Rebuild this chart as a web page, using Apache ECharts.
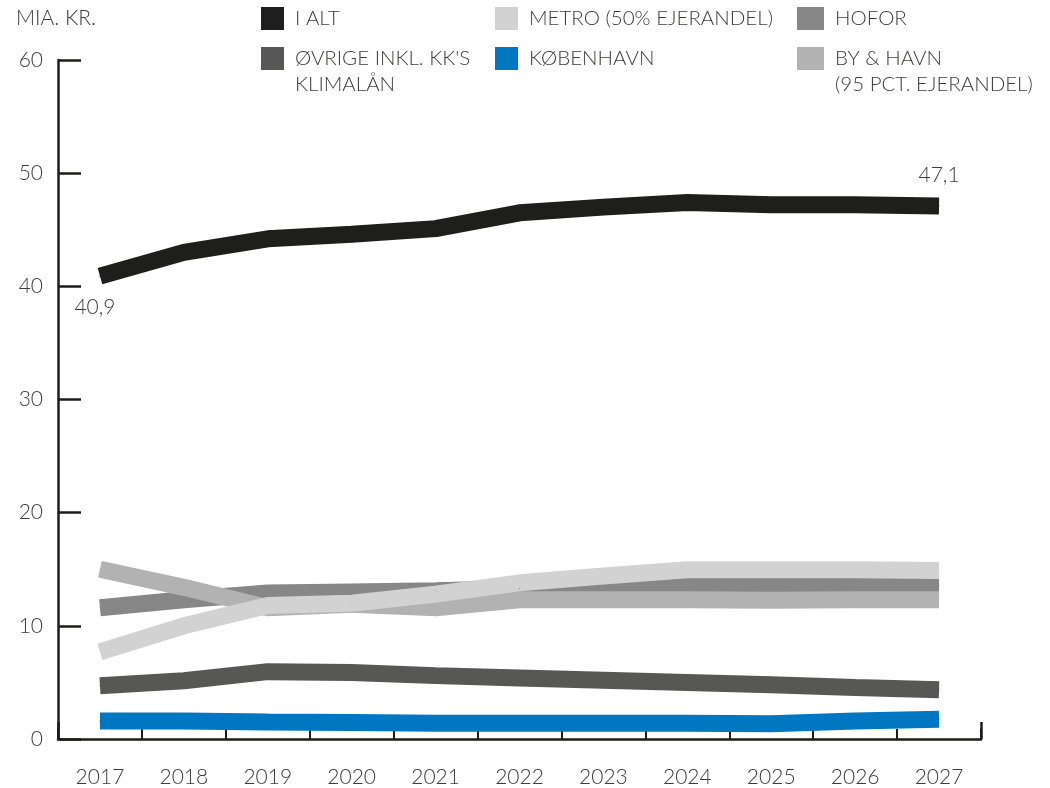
<!DOCTYPE html>
<html>
<head>
<meta charset="utf-8">
<script src="https://cdn.jsdelivr.net/npm/echarts@6/dist/echarts.min.js"></script>
<style>
  html, body { margin: 0; padding: 0; background: #ffffff; }
  #chart { width: 1050px; height: 788px; }
</style>
</head>
<body>
<div id="chart"></div>
<script>
const years = ['2017','2018','2019','2020','2021','2022','2023','2024','2025','2026','2027'];
const yTicks = [0, 10, 20, 30, 40, 50, 60];
const unitLabel = 'MIA. KR.';

const nameIAlt = 'I ALT';
const nameMetro = 'METRO (50% EJERANDEL)';
const nameHofor = 'HOFOR';
const nameOvrige = "ØVRIGE INKL. KK'S\nKLIMALÅN";
const nameKbh = 'KØBENHAVN';
const nameByHavn = 'BY & HAVN\n(95 PCT. EJERANDEL)';

const iAlt     = [40.9, 43.0, 44.2, 44.6, 45.1, 46.5, 47.0, 47.4, 47.2, 47.2, 47.1];
const metro    = [7.7, 10.0, 11.8, 12.0, 12.8, 13.8, 14.4, 14.95, 14.95, 14.95, 14.9];
const hofor    = [11.6, 12.3, 12.9, 13.0, 13.1, 13.3, 13.45, 13.6, 13.6, 13.6, 13.6];
const ovrige   = [4.7, 5.15, 5.95, 5.87, 5.6, 5.4, 5.2, 5.0, 4.8, 4.55, 4.35];
const kbh      = [1.6, 1.6, 1.5, 1.45, 1.4, 1.4, 1.4, 1.4, 1.35, 1.6, 1.75];
const byHavn   = [15.0, 13.4, 11.6, 11.9, 11.6, 12.3, 12.3, 12.3, 12.25, 12.3, 12.3];

const colors = {
  iAlt: '#1e1e1c',
  metro: '#d2d2d2',
  hofor: '#878787',
  ovrige: '#575756',
  kbh: '#0077c0',
  byHavn: '#b2b2b2'
};

const FONT = 'Lato';
const TXT = '#3c3c3b';
const AX = '#1d1d1b';
const LW = 17;

function fmt(v) { return String(v).replace('.', ','); }

function mkSeries(name, values, color, labelIdx) {
  return {
    name: name,
    type: 'line',
    symbol: 'circle',
    symbolSize: 1,
    showSymbol: true,
    itemStyle: { color: color, borderWidth: 0 },
    lineStyle: { color: color, width: LW, cap: 'butt', join: 'bevel' },
    emphasis: { disabled: true },
    data: values.map(function (v, i) {
      if (labelIdx && labelIdx[i]) {
        return {
          value: v,
          label: Object.assign({
            show: true,
            formatter: function (p) { return fmt(p.value); },
            fontFamily: FONT, fontWeight: 300, fontSize: 21, color: TXT
          }, labelIdx[i])
        };
      }
      return v;
    })
  };
}

const legendText = { fontFamily: FONT, fontWeight: 300, fontSize: 20.5, color: TXT, lineHeight: 26, padding: [0, 0, 0, 6] };
function mkLegend(name, left, top, w, twoLine) {
  const l = {
    data: [name],
    left: left, top: top,
    padding: 0,
    icon: 'rect',
    itemWidth: w, itemHeight: 23,
    selectedMode: false,
    itemStyle: { borderWidth: 0 },
    textStyle: legendText
  };
  if (twoLine) {
    l.formatter = function (n) { return '\n' + n; };
  }
  return l;
}

const chart = echarts.init(document.getElementById('chart'), null, { renderer: 'canvas' });
chart.setOption({
  animation: false,
  backgroundColor: '#ffffff',
  title: {
    text: unitLabel, left: 16, top: 8, padding: 0,
    textStyle: { fontFamily: FONT, fontWeight: 300, fontSize: 21, color: TXT }
  },
  legend: [
    mkLegend(nameIAlt, 261, 5.5, 23, false),
    mkLegend(nameMetro, 495, 5.5, 23, false),
    mkLegend(nameHofor, 797, 5.5, 27, false),
    mkLegend(nameOvrige, 261, 19.5, 23, true),
    mkLegend(nameKbh, 495, 45.5, 23, false),
    mkLegend(nameByHavn, 797, 19.5, 27, true)
  ],
  grid: { left: 58, right: 69, top: 60, bottom: 46, containLabel: false },
  xAxis: [{
    type: 'category',
    data: years,
    boundaryGap: true,
    axisLine: { lineStyle: { color: AX, width: 2.5 } },
    axisTick: { show: true, inside: true, length: 10, lineStyle: { color: AX, width: 2 } },
    axisLabel: { fontFamily: FONT, fontWeight: 300, fontSize: 21, color: TXT, margin: 28 },
    splitLine: { show: false }
  }, {
    type: 'category',
    data: years,
    position: 'bottom',
    boundaryGap: true,
    axisLine: { show: false },
    axisTick: { show: true, inside: true, length: 17, interval: function (i) { return i === 0; }, lineStyle: { color: AX, width: 2.5 } },
    axisLabel: { show: false },
    splitLine: { show: false }
  }],
  yAxis: {
    type: 'value',
    min: yTicks[0], max: yTicks[yTicks.length - 1], interval: 10,
    axisLine: { show: true, lineStyle: { color: AX, width: 2.5 } },
    axisTick: { show: true, inside: true, length: 23, lineStyle: { color: AX, width: 2.5 } },
    axisLabel: { fontFamily: FONT, fontWeight: 300, fontSize: 21, color: TXT, margin: 15 },
    splitLine: { show: false }
  },
  series: [
    mkSeries(nameHofor, hofor, colors.hofor),
    mkSeries(nameByHavn, byHavn, colors.byHavn),
    mkSeries(nameMetro, metro, colors.metro),
    mkSeries(nameOvrige, ovrige, colors.ovrige),
    mkSeries(nameKbh, kbh, colors.kbh),
    mkSeries(nameIAlt, iAlt, colors.iAlt, {
      0: { position: 'bottom', distance: 20, offset: [-5, 0] },
      10: { position: 'top', distance: 20, offset: [0, 0] }
    })
  ]
});
</script>
</body>
</html>
